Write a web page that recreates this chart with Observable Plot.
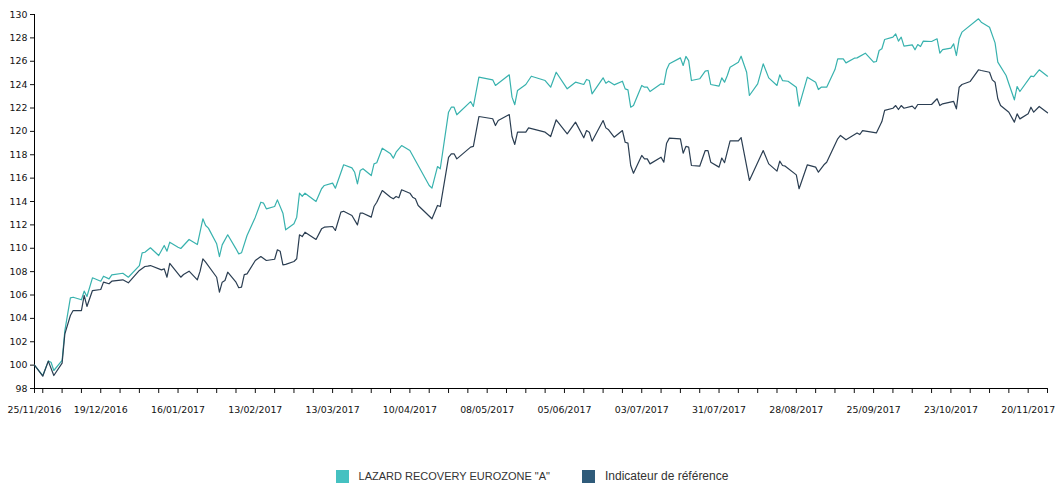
<!DOCTYPE html>
<html><head><meta charset="utf-8">
<script src="https://cdn.jsdelivr.net/npm/d3@7"></script>
<script src="https://cdn.jsdelivr.net/npm/@observablehq/plot@0.6"></script>
<style>
body{margin:0;background:#fff;}
#legend{display:flex;justify-content:center;align-items:center;margin-top:39px;font:12px "Liberation Sans",Arial,sans-serif;color:#333;}
.item{display:flex;align-items:center;margin:0 16px;}
.sw{width:13px;height:13px;margin-right:10px;}
</style></head><body><div id="chart"></div><div id="legend"></div>
<script>
const seriesNames = ['LAZARD RECOVERY EUROZONE "A"', "Indicateur de référence"];
const lineColors = ["#38b2ae", "#2b3e52"];
const swatchColors = ["#45c1c1", "#2f5b7a"];
const legendFontSizes = ["11px", "12px"];
const domainStart = "2016-11-25", domainEnd = "2017-11-27";
const yTicks = [98,100,102,104,106,108,110,112,114,116,118,120,122,124,126,128,130];
const tickLabels = ["25/11/2016","19/12/2016","16/01/2017","13/02/2017","13/03/2017","10/04/2017","08/05/2017","05/06/2017","03/07/2017","31/07/2017","28/08/2017","25/09/2017","23/10/2017","20/11/2017"];

const fundDates = ["2016-11-25","2016-11-28","2016-11-30","2016-12-01","2016-12-02","2016-12-05","2016-12-06","2016-12-08","2016-12-09","2016-12-12","2016-12-13","2016-12-14","2016-12-16","2016-12-19","2016-12-20","2016-12-22","2016-12-23","2016-12-27","2016-12-29",
"2017-01-02","2017-01-03","2017-01-04","2017-01-06","2017-01-09","2017-01-11","2017-01-12","2017-01-13","2017-01-16","2017-01-17","2017-01-20","2017-01-23","2017-01-25","2017-01-26","2017-01-27","2017-01-30","2017-01-31",
"2017-02-01","2017-02-03","2017-02-06","2017-02-07","2017-02-08","2017-02-10","2017-02-13","2017-02-15","2017-02-16","2017-02-17","2017-02-20","2017-02-21","2017-02-23","2017-02-24","2017-02-27","2017-02-28",
"2017-03-01","2017-03-02","2017-03-03","2017-03-07","2017-03-09","2017-03-10","2017-03-13","2017-03-14","2017-03-17","2017-03-20","2017-03-21","2017-03-22","2017-03-23","2017-03-24","2017-03-27","2017-03-28","2017-03-29","2017-03-31",
"2017-04-03","2017-04-04","2017-04-05","2017-04-07","2017-04-10","2017-04-12","2017-04-14","2017-04-17","2017-04-18","2017-04-20","2017-04-21","2017-04-24","2017-04-25","2017-04-26","2017-04-27",
"2017-05-02","2017-05-03","2017-05-05","2017-05-10","2017-05-11","2017-05-16","2017-05-17","2017-05-18","2017-05-19","2017-05-22","2017-05-24","2017-05-29","2017-05-31",
"2017-06-02","2017-06-06","2017-06-09","2017-06-12","2017-06-13","2017-06-14","2017-06-15","2017-06-19","2017-06-20","2017-06-21","2017-06-23","2017-06-26","2017-06-27","2017-06-28","2017-06-29","2017-06-30",
"2017-07-03","2017-07-04","2017-07-05","2017-07-06","2017-07-10","2017-07-11","2017-07-12","2017-07-13","2017-07-17","2017-07-18","2017-07-19","2017-07-20","2017-07-21","2017-07-24","2017-07-26","2017-07-27","2017-07-28","2017-07-31",
"2017-08-01","2017-08-02","2017-08-03","2017-08-04","2017-08-07","2017-08-08","2017-08-10","2017-08-11","2017-08-14","2017-08-16","2017-08-18","2017-08-21","2017-08-22","2017-08-23","2017-08-25","2017-08-28","2017-08-29",
"2017-09-01","2017-09-04","2017-09-05","2017-09-06","2017-09-08","2017-09-11","2017-09-12","2017-09-14","2017-09-15","2017-09-18","2017-09-19","2017-09-22","2017-09-25","2017-09-26","2017-09-27","2017-09-28","2017-09-29",
"2017-10-02","2017-10-03","2017-10-04","2017-10-05","2017-10-06","2017-10-09","2017-10-10","2017-10-11","2017-10-12","2017-10-13","2017-10-16","2017-10-18","2017-10-19","2017-10-20","2017-10-23","2017-10-24","2017-10-25","2017-10-26","2017-10-27",
"2017-11-02","2017-11-03","2017-11-06","2017-11-08","2017-11-09","2017-11-12","2017-11-13","2017-11-15","2017-11-16","2017-11-17","2017-11-21","2017-11-22","2017-11-24","2017-11-27"];
const fundValues = [100.0,99.11,100.34,100.25,99.54,100.4,102.96,105.76,105.81,105.59,106.33,105.87,107.47,107.18,107.61,107.38,107.72,107.86,107.52,
108.52,109.61,109.66,110.04,109.38,110.24,109.75,110.52,110.09,109.98,110.75,110.32,112.52,111.95,111.72,110.38,109.29,
110.29,111.15,109.95,109.52,109.61,111.09,112.66,113.94,113.86,113.37,113.57,114.14,113.0,111.58,112.09,112.66,
114.71,114.45,114.71,114.0,115.09,115.37,115.57,115.14,117.14,116.88,116.5,115.51,116.65,116.8,116.22,117.22,117.31,118.56,
118.08,117.71,118.22,118.79,118.36,117.51,116.65,115.37,115.14,116.99,116.8,121.64,122.07,122.07,121.42,
122.55,122.13,124.64,124.41,123.93,124.84,122.93,122.28,123.5,124.01,124.72,124.35,123.78,
125.06,123.64,124.21,124.01,124.44,124.35,123.21,124.58,124.12,124.29,123.98,124.29,123.64,123.55,122.07,122.21,
123.93,123.78,123.78,123.41,124.07,124.01,125.27,125.78,126.29,125.64,126.41,126.06,124.35,124.5,125.15,125.21,124.01,123.87,
124.58,124.21,124.78,125.49,125.92,126.43,125.06,123.07,124.07,125.78,124.58,123.93,124.84,124.35,124.29,123.78,122.16,
124.64,124.21,123.58,123.78,123.78,125.29,126.21,126.21,125.86,126.26,126.29,126.69,125.92,125.98,126.92,127.07,127.86,
128.06,128.34,127.72,128.06,127.29,127.40,126.98,127.43,127.26,127.72,127.69,127.92,126.69,127.0,127.12,127.49,126.49,127.92,128.49,
129.63,129.34,128.91,127.57,125.92,124.78,124.07,122.70,123.84,123.41,124.72,124.69,125.27,124.72];

const benchDates = ["2016-11-25","2016-11-28","2016-11-30","2016-12-02","2016-12-05","2016-12-06","2016-12-08","2016-12-09","2016-12-12","2016-12-13","2016-12-14","2016-12-16","2016-12-19","2016-12-20","2016-12-22","2016-12-23","2016-12-27","2016-12-29",
"2017-01-02","2017-01-04","2017-01-05","2017-01-06","2017-01-10","2017-01-11","2017-01-12","2017-01-13","2017-01-17","2017-01-18","2017-01-20","2017-01-23","2017-01-24","2017-01-25","2017-01-26","2017-01-30","2017-01-31",
"2017-02-01","2017-02-02","2017-02-03","2017-02-06","2017-02-07","2017-02-08","2017-02-09","2017-02-10","2017-02-13","2017-02-15","2017-02-17","2017-02-20","2017-02-21","2017-02-22","2017-02-23","2017-02-24","2017-02-27","2017-02-28",
"2017-03-01","2017-03-02","2017-03-03","2017-03-07","2017-03-09","2017-03-10","2017-03-13","2017-03-14","2017-03-16","2017-03-17","2017-03-20","2017-03-22","2017-03-23","2017-03-24","2017-03-27","2017-03-28","2017-03-29","2017-03-31",
"2017-04-03","2017-04-04","2017-04-05","2017-04-06","2017-04-07","2017-04-10","2017-04-11","2017-04-12","2017-04-13","2017-04-18","2017-04-20","2017-04-21","2017-04-24","2017-04-25","2017-04-26","2017-04-27",
"2017-05-02","2017-05-03","2017-05-05","2017-05-10","2017-05-11","2017-05-12","2017-05-16","2017-05-17","2017-05-18","2017-05-19","2017-05-22","2017-05-23","2017-05-29","2017-05-31",
"2017-06-02","2017-06-06","2017-06-09","2017-06-12","2017-06-13","2017-06-14","2017-06-15","2017-06-19","2017-06-20","2017-06-21","2017-06-23","2017-06-26","2017-06-27","2017-06-28","2017-06-29","2017-06-30",
"2017-07-03","2017-07-04","2017-07-05","2017-07-06","2017-07-10","2017-07-11","2017-07-12","2017-07-13","2017-07-17","2017-07-18","2017-07-19","2017-07-20","2017-07-21","2017-07-24","2017-07-26","2017-07-27","2017-07-28","2017-07-31",
"2017-08-01","2017-08-02","2017-08-04","2017-08-07","2017-08-08","2017-08-11","2017-08-16","2017-08-18","2017-08-21","2017-08-22","2017-08-23","2017-08-24","2017-08-28","2017-08-29",
"2017-09-01","2017-09-04","2017-09-05","2017-09-07","2017-09-08","2017-09-12","2017-09-13","2017-09-15","2017-09-19","2017-09-20","2017-09-21","2017-09-26","2017-09-28","2017-09-29",
"2017-10-02","2017-10-03","2017-10-04","2017-10-05","2017-10-06","2017-10-09","2017-10-10","2017-10-11","2017-10-16","2017-10-18","2017-10-19","2017-10-20","2017-10-24","2017-10-25","2017-10-26","2017-10-27","2017-10-30",
"2017-11-02","2017-11-03","2017-11-06","2017-11-07","2017-11-08","2017-11-09","2017-11-10","2017-11-13","2017-11-15","2017-11-16","2017-11-17","2017-11-20","2017-11-21","2017-11-22","2017-11-24","2017-11-27"];
const benchValues = [100.0,99.05,100.34,99.11,100.17,102.68,104.25,104.67,104.67,105.96,105.02,106.38,106.47,107.1,106.96,107.18,107.3,107.04,
108.1,108.44,108.47,108.52,108.15,108.24,107.52,108.7,107.52,107.75,108.04,107.3,108.04,109.1,108.81,107.52,106.24,
107.1,107.24,107.95,107.1,106.62,106.67,107.75,107.81,108.95,109.29,108.95,109.06,109.87,109.75,108.58,108.62,108.87,109.1,
111.15,111.0,111.37,110.75,111.66,111.8,111.86,111.52,113.09,113.17,112.8,112.0,113.0,113.0,112.66,113.57,113.94,114.94,
114.37,114.23,114.43,114.32,115.0,114.71,114.37,114.23,113.66,112.52,113.66,113.57,117.77,118.08,118.08,117.65,
118.65,118.71,121.27,121.08,120.5,120.93,121.44,119.56,118.88,119.93,119.93,120.3,119.93,119.56,
120.99,119.79,120.79,119.45,120.07,119.93,119.16,120.93,120.3,120.13,119.5,120.07,119.07,118.99,117.08,116.42,
117.94,117.65,117.65,117.22,117.79,117.36,118.99,119.42,119.36,118.13,118.71,118.65,117.08,117.02,118.36,118.36,117.36,116.94,
117.72,117.32,119.18,119.18,119.47,115.8,118.36,117.22,116.6,117.45,117.08,117.02,116.28,115.09,
117.14,116.94,116.51,117.14,117.36,119.36,119.65,119.28,119.87,119.73,120.07,119.87,120.84,121.79,
121.98,122.21,121.87,122.21,121.98,122.16,121.93,122.30,122.30,122.79,122.21,122.36,122.56,121.93,123.78,124.01,124.27,
125.27,125.21,125.06,124.41,124.21,122.79,122.21,121.64,120.79,121.50,121.07,121.50,122.07,121.64,122.13,121.59];

const parse = d3.utcParse("%Y-%m-%d");
const data = [
  ...fundDates.map((d, i) => ({date: parse(d), value: fundValues[i], series: seriesNames[0]})),
  ...benchDates.map((d, i) => ({date: parse(d), value: benchValues[i], series: seriesNames[1]}))
];
const start = parse(domainStart), end = parse(domainEnd);
const weekTicks = [start, ...d3.utcMonday.range(d3.utcDay.offset(start, 1), d3.utcDay.offset(end, 1))];
const labelDates = tickLabels.map(d3.utcParse("%d/%m/%Y"));

const chart = Plot.plot({
  width: 1064, height: 430,
  marginLeft: 34, marginRight: 17, marginTop: 14, marginBottom: 42,
  style: {fontFamily: "'DejaVu Sans', Verdana, sans-serif", fontSize: "9.4px", color: "#111", background: "#fff", overflow: "visible"},
  x: {type: "utc", domain: [start, end]},
  y: {domain: [98, 130]},
  color: {domain: seriesNames, range: lineColors},
  marks: [
    Plot.axisY({ticks: yTicks, tickSize: 4, tickPadding: 3, label: null, tickFormat: d => String(d)}),
    Plot.axisX({ticks: weekTicks, tickSize: 5, tickFormat: () => "", label: null}),
    Plot.axisX({ticks: labelDates, tickSize: 0, tickPadding: 18, tickFormat: d3.utcFormat("%d/%m/%Y"), label: null}),
    Plot.ruleX([start], {stroke: "#000"}),
    Plot.ruleY([98], {stroke: "#000"}),
    Plot.line(data, {x: "date", y: "value", stroke: "series", strokeWidth: 1.2})
  ]
});
document.getElementById("chart").appendChild(chart);

const legend = document.getElementById("legend");
seriesNames.forEach((name, i) => {
  const item = document.createElement("div");
  item.className = "item";
  const sw = document.createElement("span");
  sw.className = "sw";
  sw.style.background = swatchColors[i];
  const t = document.createElement("span");
  t.textContent = name;
  t.style.fontSize = legendFontSizes[i];
  item.appendChild(sw); item.appendChild(t);
  legend.appendChild(item);
});
</script>
</body></html>
